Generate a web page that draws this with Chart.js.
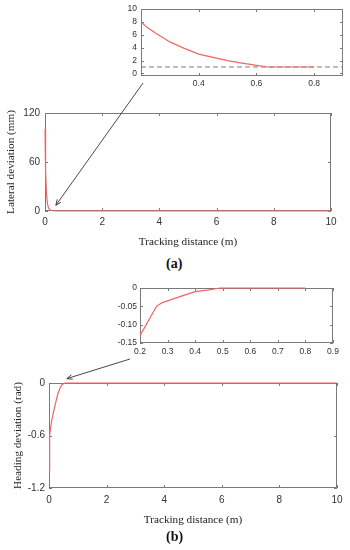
<!DOCTYPE html>
<html>
<head>
<meta charset="utf-8">
<script src="https://cdn.jsdelivr.net/npm/chart.js@4.4.0/dist/chart.umd.min.js"></script>
<style>
  body { margin: 0; background: #fff; }
  #wrap { position: relative; width: 350px; height: 550px; overflow: hidden; }
  canvas { position: absolute; }
  .lbl { position: absolute; font-family: "Liberation Serif", serif; font-weight: bold; font-size: 14px; color: #111; }
</style>
</head>
<body>
<div id="wrap">
  <canvas id="insetA" width="250" height="90" style="left:100px;top:0px"></canvas>
  <canvas id="mainA" width="350" height="152" style="left:0px;top:100px"></canvas>
  <div class="lbl" style="left:166px;top:256px">(a)</div>
  <canvas id="insetB" width="250" height="80" style="left:100px;top:278px"></canvas>
  <canvas id="mainB" width="350" height="160" style="left:0px;top:370px"></canvas>
  <div class="lbl" style="left:166px;top:529px">(b)</div>
  <canvas id="arrows" width="350" height="550" style="left:0;top:0;pointer-events:none"></canvas>
</div>
<script>
// (a) lateral deviation, zoomed part
var insetAx = [0.2, 0.22, 0.25, 0.3, 0.35, 0.4, 0.45, 0.5, 0.55, 0.6, 0.64, 0.7, 0.8];
var insetAy = [8.0, 7.2, 6.3, 4.9, 3.9, 3.0, 2.5, 2.0, 1.6, 1.25, 1.0, 1.0, 1.0];
var refAx = [0.2, 0.9];
var refAy = [1, 1];
var insetAxTicks = [0.4, 0.6, 0.8];
var insetAyTicks = [0, 2, 4, 6, 8, 10];

// (a) lateral deviation, whole run
var mainAx = [0, 0.02, 0.05, 0.08, 0.12, 0.17, 0.25, 0.4, 10];
var mainAy = [100, 50, 22, 10, 4, 1.5, 0.3, 0, 0];
var mainAxTicks = [0, 2, 4, 6, 8, 10];
var mainAyTicks = [0, 60, 120];

// (b) heading deviation, zoomed part
var insetBx = [0.2, 0.23, 0.26, 0.28, 0.3, 0.35, 0.4, 0.45, 0.49, 0.8];
var insetBy = [-0.13, -0.09, -0.05, -0.04, -0.035, -0.022, -0.01, -0.005, 0, 0];
var insetBxTicks = [0.2, 0.3, 0.4, 0.5, 0.6, 0.7, 0.8, 0.9];
var insetByTicks = [-0.15, -0.1, -0.05, 0];

// (b) heading deviation, whole run
var mainBx = [0, 0.015, 0.03, 0.06, 0.1, 0.15, 0.2, 0.25, 0.31, 0.38, 0.45, 0.55, 10];
var mainBy = [-1.0, -0.8, -0.6, -0.5, -0.42, -0.34, -0.27, -0.2, -0.12, -0.06, -0.02, 0, 0];
var mainBxTicks = [0, 2, 4, 6, 8, 10];
var mainByTicks = [-1.2, -0.6, 0];

var RED = '#f26464';
var FRAME = '#7a7a7a';

function pts(xs, ys) {
    var out = [];
    for (var i = 0; i < xs.length; i++) out.push({x: xs[i], y: ys[i]});
    return out;
}

// matlab style box with inward ticks
var boxPlugin = {
    id: 'box',
    beforeDatasetsDraw: function(chart) {
        var ctx = chart.ctx, a = chart.chartArea, x = chart.scales.x, y = chart.scales.y;
        ctx.save();
        ctx.strokeStyle = FRAME;
        ctx.lineWidth = 1;
        ctx.strokeRect(Math.round(a.left) + 0.5, Math.round(a.top) + 0.5,
            Math.round(a.right - a.left) - 1, Math.round(a.bottom - a.top) - 1);
        ctx.beginPath();
        x.ticks.forEach(function(t) {
            var px = Math.round(x.getPixelForValue(t.value)) + 0.5;
            ctx.moveTo(px, a.bottom); ctx.lineTo(px, a.bottom - 3);
            ctx.moveTo(px, a.top); ctx.lineTo(px, a.top + 3);
        });
        y.ticks.forEach(function(t) {
            var py = Math.round(y.getPixelForValue(t.value)) + 0.5;
            ctx.moveTo(a.left, py); ctx.lineTo(a.left + 3, py);
            ctx.moveTo(a.right, py); ctx.lineTo(a.right - 3, py);
        });
        ctx.stroke();
        ctx.restore();
    }
};

function makeChart(id, o) {
    var ctx = document.getElementById(id).getContext('2d');
    var datasets = [{
        data: pts(o.xs, o.ys),
        borderColor: RED,
        borderWidth: 1.2,
        pointRadius: 0,
        tension: 0,
        clip: 3
    }];
    if (o.ref) {
        datasets.push({
            data: pts(o.ref[0], o.ref[1]),
            borderColor: '#7d7d7d',
            borderWidth: 1,
            borderDash: [5, 3],
            pointRadius: 0
        });
    }
    return new Chart(ctx, {
        type: 'line',
        data: { datasets: datasets },
        plugins: [boxPlugin],
        options: {
            responsive: false,
            animation: false,
            layout: { padding: { left: 0, top: o.padTop, right: o.padRight, bottom: 0 } },
            plugins: { legend: { display: false }, tooltip: { enabled: false } },
            scales: {
                x: {
                    type: 'linear',
                    min: o.xmin, max: o.xmax,
                    grid: { display: false, drawTicks: false },
                    border: { display: false },
                    afterBuildTicks: function(s) { s.ticks = o.xticks.map(function(v) { return {value: v}; }); },
                    afterFit: function(s) { s.height = o.xHeight; },
                    ticks: { color: '#333', padding: o.xPad, maxRotation: 0, autoSkip: false,
                        font: { family: 'Liberation Sans', size: o.tickSize } },
                    title: o.xTitle ? { display: true, text: o.xTitle, color: '#222',
                        padding: { top: 0, bottom: 3 },
                        font: { family: 'Liberation Serif', size: 11.2 } } : { display: false }
                },
                y: {
                    min: o.ymin, max: o.ymax,
                    grid: { display: false, drawTicks: false },
                    border: { display: false },
                    afterBuildTicks: function(s) { s.ticks = o.yticks.map(function(v) { return {value: v}; }); },
                    afterFit: function(s) { s.width = o.yWidth; },
                    ticks: { color: '#333', padding: o.yPad, autoSkip: false,
                        font: { family: 'Liberation Sans', size: o.tickSize } },
                    title: o.yTitle ? { display: true, text: o.yTitle, color: '#222',
                        padding: { top: o.yTitlePad, bottom: 0 },
                        font: { family: 'Liberation Serif', size: 11.2 } } : { display: false }
                }
            }
        }
    });
}

var cIA = makeChart('insetA', {
    xs: insetAx, ys: insetAy, ref: [refAx, refAy],
    xmin: 0.2, xmax: 0.9, ymin: -0.4, ymax: 10,
    xticks: insetAxTicks, yticks: insetAyTicks,
    padTop: 9, padRight: 7, xHeight: 14, yWidth: 41,
    tickSize: 8.5, xPad: 3, yPad: 4
});
var cMA = makeChart('mainA', {
    xs: mainAx, ys: mainAy,
    xmin: 0, xmax: 10, ymin: 0, ymax: 120,
    xticks: mainAxTicks, yticks: mainAyTicks,
    padTop: 13, padRight: 19, xHeight: 41, yWidth: 45,
    tickSize: 10, xPad: 5, yPad: 5,
    xTitle: 'Tracking distance (m)', yTitle: 'Lateral deviation (mm)', yTitlePad: 4
});
var cIB = makeChart('insetB', {
    xs: insetBx, ys: insetBy,
    xmin: 0.2, xmax: 0.9, ymin: -0.15, ymax: 0,
    xticks: insetBxTicks, yticks: insetByTicks,
    padTop: 10, padRight: 17, xHeight: 15, yWidth: 40,
    tickSize: 8.5, xPad: 4, yPad: 3
});
var cMB = makeChart('mainB', {
    xs: mainBx, ys: mainBy,
    xmin: 0, xmax: 10, ymin: -1.2, ymax: 0,
    xticks: mainBxTicks, yticks: mainByTicks,
    padTop: 13, padRight: 13, xHeight: 42, yWidth: 49,
    tickSize: 10, xPad: 6, yPad: 4,
    xTitle: 'Tracking distance (m)', yTitle: 'Heading deviation (rad)', yTitlePad: 11
});

// pointer arrows from each zoom box to the spot it magnifies
function canvasOffset(chart) {
    var c = chart.canvas;
    return { x: parseFloat(c.style.left), y: parseFloat(c.style.top) };
}
function arrow(ctx, x1, y1, x2, y2) {
    var ang = Math.atan2(y2 - y1, x2 - x1), L = 6;
    ctx.beginPath();
    ctx.moveTo(x1, y1); ctx.lineTo(x2, y2);
    ctx.moveTo(x2 - L * Math.cos(ang - 0.4), y2 - L * Math.sin(ang - 0.4));
    ctx.lineTo(x2, y2);
    ctx.lineTo(x2 - L * Math.cos(ang + 0.4), y2 - L * Math.sin(ang + 0.4));
    ctx.stroke();
}
var actx = document.getElementById('arrows').getContext('2d');
actx.strokeStyle = '#333';
actx.lineWidth = 0.9;
var oIA = canvasOffset(cIA), oMA = canvasOffset(cMA), oIB = canvasOffset(cIB), oMB = canvasOffset(cMB);
arrow(actx,
    oIA.x + cIA.chartArea.left + 2, oIA.y + cIA.chartArea.bottom + 7,
    oMA.x + cMA.scales.x.getPixelForValue(0.38), oMA.y + cMA.scales.y.getPixelForValue(7));
arrow(actx,
    oIB.x + cIB.chartArea.left - 10, oIB.y + cIB.chartArea.bottom + 16,
    oMB.x + cMB.scales.x.getPixelForValue(0.62), oMB.y + cMB.scales.y.getPixelForValue(0.05));
</script>
</body>
</html>
